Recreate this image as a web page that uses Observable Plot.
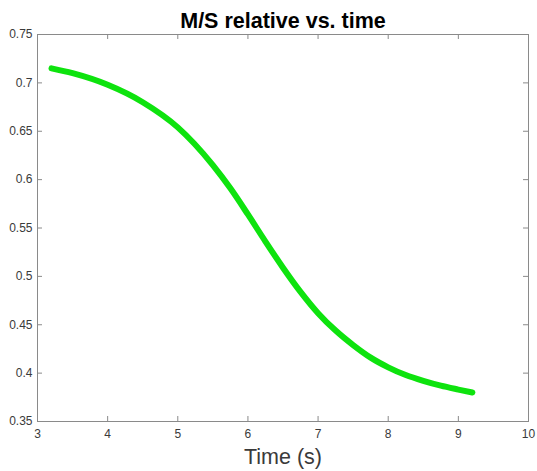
<!DOCTYPE html>
<html>
<head>
<meta charset="utf-8">
<script src="https://cdn.jsdelivr.net/npm/d3@7"></script>
<script src="https://cdn.jsdelivr.net/npm/@observablehq/plot@0.6"></script>
<style>
  html, body { margin: 0; padding: 0; background: #fff; }
</style>
</head>
<body>
<div id="wrap"></div>
<script>
const time   = [3.2, 3.5, 4.0, 4.5, 5.0, 5.5, 5.75, 6.0, 6.25, 6.5, 6.75, 7.0, 7.25, 7.5, 7.75, 8.0, 8.25, 8.5, 8.75, 9.0, 9.2];
const msRel  = [0.715, 0.710, 0.698, 0.680, 0.654, 0.615, 0.591, 0.564, 0.536, 0.509, 0.484, 0.462, 0.444, 0.429, 0.416, 0.406, 0.398, 0.392, 0.387, 0.383, 0.380];
const xTicks = [3, 4, 5, 6, 7, 8, 9, 10];
const yTicks = [0.35, 0.4, 0.45, 0.5, 0.55, 0.6, 0.65, 0.7, 0.75];
const yTickLabels = ["0.35", "0.4", "0.45", "0.5", "0.55", "0.6", "0.65", "0.7", "0.75"];
const titleText = "M/S relative vs. time";
const xLabelText = "Time (s)";

const data = time.map((t, i) => ({t, v: msRel[i]}));

const W = 537, H = 471, mT = 34, mB = 50, mL = 37, mR = 9;
const innerH = H - mT - mB;
const innerW = W - mL - mR;
const axisGray = "#8a8a8a";

const chart = Plot.plot({
  width: W,
  height: H,
  marginTop: mT,
  marginBottom: mB,
  marginLeft: mL,
  marginRight: mR,
  style: {fontFamily: "'Liberation Sans', Arial, sans-serif", color: "#3a3a3a", background: "#fff"},
  x: {domain: [3, 10]},
  y: {domain: [0.35, 0.75]},
  marks: [
    Plot.frame({stroke: axisGray, strokeWidth: 1}),
    Plot.ruleX(xTicks, {stroke: axisGray, insetTop: innerH - 5}),
    Plot.ruleX(xTicks, {stroke: axisGray, insetBottom: innerH - 5}),
    Plot.ruleY(yTicks, {stroke: axisGray, x1: 3, x2: 3 + 5 * 7 / innerW}),
    Plot.ruleY(yTicks, {stroke: axisGray, x1: 10 - 5 * 7 / innerW, x2: 10}),
    Plot.axisX(xTicks, {anchor: "bottom", tickSize: 0, tickPadding: 8, fontSize: 12, label: null}),
    Plot.axisY(yTicks, {anchor: "left", tickSize: 0, tickPadding: 5, fontSize: 12, label: null,
      tickFormat: (d) => yTickLabels[yTicks.indexOf(d)]}),
    Plot.line(data, {x: "t", y: "v", stroke: "#0ee30e", strokeWidth: 6, strokeLinecap: "round", strokeLinejoin: "round", curve: "monotone-x"}),
    Plot.text([titleText], {frameAnchor: "top", dy: -7, lineAnchor: "bottom", fontSize: 21.5, fontWeight: "bold", fill: "#000"}),
    Plot.text([xLabelText], {frameAnchor: "bottom", dy: 42, lineAnchor: "bottom", fontSize: 21.5, fill: "#3a3a3a"})
  ]
});
document.getElementById("wrap").appendChild(chart);
</script>
</body>
</html>
